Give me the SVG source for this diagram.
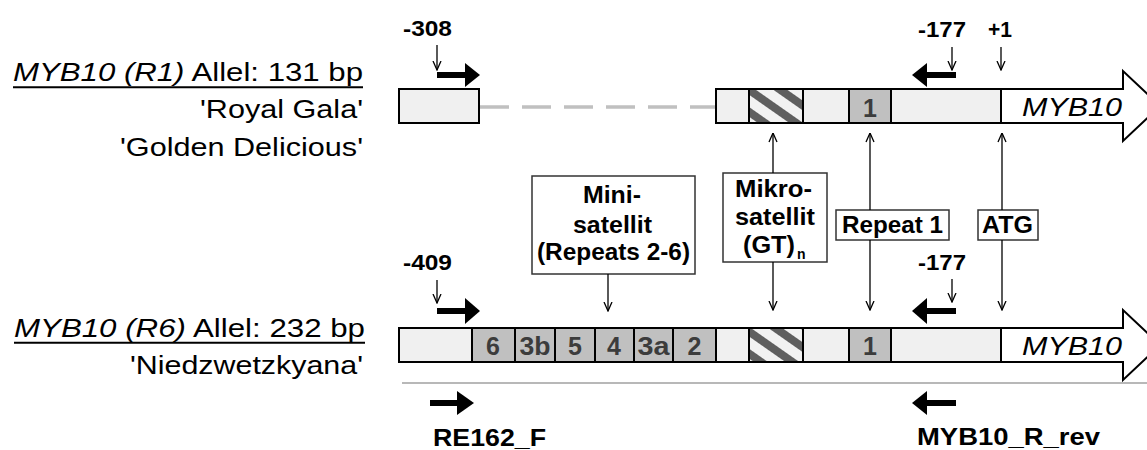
<svg xmlns="http://www.w3.org/2000/svg" width="1147" height="450" viewBox="0 0 1147 450">
<style>
  .lbl{font-family:"Liberation Sans",Arial,sans-serif;font-size:25.5px;fill:#000}
  .it{font-style:italic}
  .b{font-family:"Liberation Sans",Arial,sans-serif;font-weight:bold;fill:#000}
  .num{font-size:22px}
  .box{font-size:23px}
  .dig{font-family:"Liberation Sans",Arial,sans-serif;font-weight:bold;font-size:25px;fill:#3c3c3c;text-anchor:middle}
  .cell{fill:#f0f0f0;stroke:#000;stroke-width:2}
  .rep{fill:#c0c0c0;stroke:#000;stroke-width:2}
  .hat{fill:url(#hatch);stroke:#000;stroke-width:2}
  .gene{fill:#fff;stroke:#000;stroke-width:2}
  .lab{fill:#fff;stroke:#333;stroke-width:1.5}
  .ann{stroke:#000;stroke-width:1.3;fill:none;marker-end:url(#ah)}
  .pr{stroke:#000;stroke-width:6;fill:none}
</style>
<defs>
  <marker id="ah" markerWidth="10" markerHeight="10" refX="9.5" refY="5" orient="auto" markerUnits="userSpaceOnUse">
    <path d="M0.5,1 L9.5,5 L0.5,9" fill="none" stroke="#000" stroke-width="1.3"/>
  </marker>
  <pattern id="hatch" patternUnits="userSpaceOnUse" width="18" height="18" patternTransform="rotate(35)">
    <rect width="18" height="18" fill="#f2f2f2"/>
    <rect width="18" height="8" fill="#5f5f5f"/>
  </pattern>
</defs>
<rect width="1147" height="450" fill="#fff"/>

<!-- Allele labels -->
<g id="label-r1">
  <text class="lbl" x="13" y="81" textLength="350" lengthAdjust="spacingAndGlyphs"><tspan class="it">MYB10 (R1)</tspan> Allel: 131 bp</text>
  <line x1="13" y1="87.3" x2="363" y2="87.3" stroke="#000" stroke-width="2"/>
  <text class="lbl" x="200" y="118" textLength="163" lengthAdjust="spacingAndGlyphs">'Royal Gala'</text>
  <text class="lbl" x="120" y="156" textLength="243" lengthAdjust="spacingAndGlyphs">'Golden Delicious'</text>
</g>
<g id="label-r6">
  <text class="lbl" x="14" y="337" textLength="351" lengthAdjust="spacingAndGlyphs"><tspan class="it">MYB10 (R6)</tspan> Allel: 232 bp</text>
  <line x1="14" y1="342.7" x2="365" y2="342.7" stroke="#000" stroke-width="2"/>
  <text class="lbl" x="130" y="374" textLength="233" lengthAdjust="spacingAndGlyphs">'Niedzwetzkyana'</text>
</g>

<!-- Top allele R1 -->
<g id="allele-r1">
  <rect class="cell" x="399" y="89" width="80" height="34"/>
  <line x1="480" y1="107" x2="716" y2="107" stroke="#c0c0c0" stroke-width="3.5" stroke-dasharray="29 13"/>
  <rect class="cell" x="716" y="89" width="33" height="34"/>
  <rect class="hat" x="749" y="89" width="54" height="34"/>
  <rect class="cell" x="803" y="89" width="46" height="34"/>
  <rect class="rep" x="849" y="89" width="42" height="34"/>
  <text class="dig" x="870" y="117">1</text>
  <rect class="cell" x="891" y="89" width="110" height="34"/>
  <polygon class="gene" points="1001,89 1123,89 1123,71 1160,106 1123,141 1123,123 1001,123"/>
  <text class="lbl it" x="1022" y="115.5" font-size="28.5" textLength="100" lengthAdjust="spacingAndGlyphs">MYB10</text>
</g>

<!-- Bottom allele R6 -->
<g id="allele-r6">
  <rect class="cell" x="399" y="328" width="73" height="34"/>
  <rect class="rep" x="472" y="328" width="43" height="34"/>
  <rect class="rep" x="515" y="328" width="40" height="34"/>
  <rect class="rep" x="555" y="328" width="40" height="34"/>
  <rect class="rep" x="595" y="328" width="39" height="34"/>
  <rect class="rep" x="634" y="328" width="39" height="34"/>
  <rect class="rep" x="673" y="328" width="43" height="34"/>
  <text class="dig" x="493" y="355">6</text>
  <text class="dig" x="535" y="355" textLength="31" lengthAdjust="spacingAndGlyphs">3b</text>
  <text class="dig" x="575" y="355">5</text>
  <text class="dig" x="614" y="355">4</text>
  <text class="dig" x="653.5" y="355" textLength="32" lengthAdjust="spacingAndGlyphs">3a</text>
  <text class="dig" x="694.5" y="355">2</text>
  <rect class="cell" x="716" y="328" width="33" height="34"/>
  <rect class="hat" x="749" y="328" width="54" height="34"/>
  <rect class="cell" x="803" y="328" width="46" height="34"/>
  <rect class="rep" x="849" y="328" width="42" height="34"/>
  <text class="dig" x="870" y="355">1</text>
  <rect class="cell" x="891" y="328" width="110" height="34"/>
  <polygon class="gene" points="1001,328 1123,328 1123,310 1160,345 1123,380 1123,362 1001,362"/>
  <text class="lbl it" x="1022" y="354.5" font-size="28.5" textLength="100" lengthAdjust="spacingAndGlyphs">MYB10</text>
</g>

<line id="separator" x1="402" y1="383" x2="1147" y2="383" stroke="#a0a0a0" stroke-width="1.5"/>

<!-- Position labels -->
<g id="pos-308"><text class="b num" x="403" y="35.5" textLength="49" lengthAdjust="spacingAndGlyphs">-308</text></g>
<g id="pos-177-top"><text class="b num" x="918" y="37" textLength="48" lengthAdjust="spacingAndGlyphs">-177</text></g>
<g id="pos-plus1"><text class="b num" x="988" y="37" textLength="24" lengthAdjust="spacingAndGlyphs">+1</text></g>
<g id="pos-409"><text class="b num" x="403" y="270" textLength="49" lengthAdjust="spacingAndGlyphs">-409</text></g>
<g id="pos-177-bottom"><text class="b num" x="918" y="270" textLength="48" lengthAdjust="spacingAndGlyphs">-177</text></g>

<!-- Feature boxes -->
<g id="box-mini">
  <rect class="lab" x="532" y="176" width="163" height="98"/>
  <text class="b box" x="583" y="203" textLength="58" lengthAdjust="spacingAndGlyphs">Mini-</text>
  <text class="b box" x="573" y="232.5" textLength="79" lengthAdjust="spacingAndGlyphs">satellit</text>
  <text class="b box" x="537" y="260" textLength="153" lengthAdjust="spacingAndGlyphs">(Repeats 2-6)</text>
</g>
<g id="box-mikro">
  <rect class="lab" x="723" y="173" width="104" height="89"/>
  <text class="b box" x="735" y="197" textLength="77" lengthAdjust="spacingAndGlyphs">Mikro-</text>
  <text class="b box" x="735" y="225" textLength="80" lengthAdjust="spacingAndGlyphs">satellit</text>
  <text class="b box" x="743" y="252.5" textLength="52" lengthAdjust="spacingAndGlyphs">(GT)</text>
  <text class="b" x="797" y="259" font-size="14">n</text>
</g>
<g id="box-repeat1">
  <rect class="lab" x="836" y="210" width="113" height="30"/>
  <text class="b box" x="842" y="233" textLength="101" lengthAdjust="spacingAndGlyphs">Repeat 1</text>
</g>
<g id="box-atg">
  <rect class="lab" x="978" y="210" width="60" height="30"/>
  <text class="b box" x="982" y="233" textLength="51" lengthAdjust="spacingAndGlyphs">ATG</text>
</g>

<!-- Primers -->
<g id="primer-fwd-top">
  <line class="pr" x1="437" y1="75" x2="467" y2="75"/>
  <polygon points="465,63 480,75 465,87" fill="#000"/>
</g>
<g id="primer-rev-top">
  <line class="pr" x1="956" y1="75" x2="925" y2="75"/>
  <polygon points="927,63 912,75 927,87" fill="#000"/>
</g>
<g id="primer-fwd-bottom">
  <line class="pr" x1="437" y1="311" x2="467" y2="311"/>
  <polygon points="465,298 480,311 465,324" fill="#000"/>
</g>
<g id="primer-rev-bottom">
  <line class="pr" x1="956" y1="311" x2="925" y2="311"/>
  <polygon points="927,298 912,311 927,324" fill="#000"/>
</g>
<g id="primer-RE162_F">
  <line class="pr" x1="430" y1="403" x2="459" y2="403"/>
  <polygon points="457,391 474,403 457,415" fill="#000"/>
  <text class="b" x="433" y="446" font-size="24.5" textLength="113" lengthAdjust="spacingAndGlyphs">RE162_F</text>
</g>
<g id="primer-MYB10_R_rev">
  <line class="pr" x1="956" y1="403" x2="925" y2="403"/>
  <polygon points="927,391 912,403 927,415" fill="#000"/>
  <text class="b" x="917" y="445" font-size="24.5" textLength="183" lengthAdjust="spacingAndGlyphs">MYB10_R_rev</text>
</g>

<!-- Connectors -->
<g id="connectors">
  <line class="ann" x1="437" y1="45" x2="437" y2="70"/>
  <line class="ann" x1="952" y1="47" x2="952" y2="70"/>
  <line class="ann" x1="1001" y1="47" x2="1001" y2="70"/>
  <line class="ann" x1="437" y1="280" x2="437" y2="303"/>
  <line class="ann" x1="952" y1="279" x2="952" y2="302"/>
  <line class="ann" x1="608" y1="274" x2="608" y2="311"/>
  <line class="ann" x1="773" y1="173" x2="773" y2="133"/>
  <line class="ann" x1="773" y1="262" x2="773" y2="310"/>
  <line class="ann" x1="870" y1="210" x2="870" y2="133"/>
  <line class="ann" x1="870" y1="240" x2="870" y2="310"/>
  <line class="ann" x1="1002" y1="210" x2="1002" y2="133"/>
  <line class="ann" x1="1002" y1="240" x2="1002" y2="310"/>
</g>
</svg>
